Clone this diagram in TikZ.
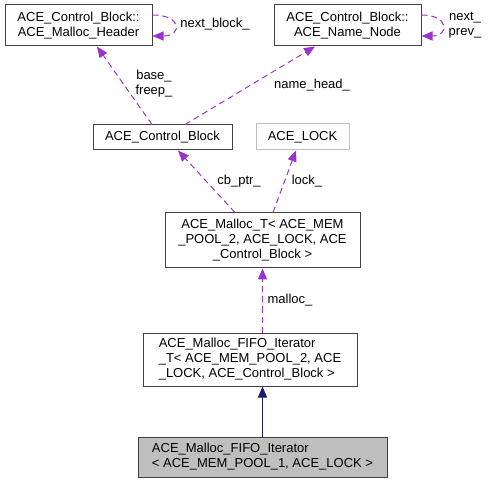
\documentclass[tikz,border=0pt]{standalone}
\usepackage{fontspec}
\setmainfont{Liberation Sans}
\usepackage{tikz}
\usetikzlibrary{arrows.meta}
\definecolor{usagecol}{HTML}{9A32CD}
\definecolor{inheritcol}{HTML}{191970}

\begin{document}
\begin{tikzpicture}[x=1pt,y=-1pt,line width=1pt]
  \tikzstyle{classbox} = [draw=black!75,fill=white,font=\fontsize{13}{15}\selectfont,inner sep=2pt,align=center]
  \tikzstyle{lockbox} = [classbox,draw=black!25]
  \tikzstyle{thisbox} = [classbox,fill=black!25]
  \tikzstyle{usage} = [draw=usagecol,dash pattern=on 6pt off 4pt,-{Triangle[length=11pt,width=9pt]}]
  \tikzstyle{inherit} = [draw=inheritcol,-{Triangle[length=11pt,width=9pt]}]
  \tikzstyle{elabel} = [font=\fontsize{13}{15}\selectfont,align=center,inner sep=0pt]
  \useasboundingbox (0,0) rectangle (488,484);
  %
  % Classes.
  \node[classbox,minimum width=147pt,minimum height=41pt] (hdr) at (78.5,25.5) {ACE\_Control\_Block::\\ACE\_Malloc\_Header};
  \node[classbox,minimum width=147pt,minimum height=41pt] (namenode) at (347.5,25.5) {ACE\_Control\_Block::\\ACE\_Name\_Node};
  \node[classbox,minimum width=139pt,minimum height=25pt] (cblock) at (162.5,137.5) {ACE\_Control\_Block};
  \node[lockbox,minimum width=93pt,minimum height=26pt] (lock) at (302.5,137) {ACE\_LOCK};
  \node[classbox,minimum width=195pt,minimum height=55pt] (mallocT) at (262.5,240.5) {ACE\_Malloc\_T< ACE\_MEM\\\_POOL\_2, ACE\_LOCK, ACE\\\_Control\_Block >};
  \node[classbox,align=left,minimum width=214pt,minimum height=53pt] (fifoT) at (250,359.5) {ACE\_Malloc\_FIFO\_Iterator\\\_T< ACE\_MEM\_POOL\_2, ACE\\\_LOCK, ACE\_Control\_Block >};
  \node[thisbox,align=left,minimum width=249pt,minimum height=40pt] (iter) at (262.5,457) {ACE\_Malloc\_FIFO\_Iterator\\< ACE\_MEM\_POOL\_1, ACE\_LOCK >};
  %
  % Usage edges.
  \draw[usage] ([xshift=-10.5pt]cblock.north) -- ([xshift=18.5pt]hdr.south);
  \draw[usage] ([xshift=22.5pt]cblock.north) -- ([xshift=-32.5pt]namenode.south);
  \draw[usage] ([yshift=10.5pt]hdr.east) .. controls +(30,0) and +(30,0) .. ([yshift=-10.5pt]hdr.east);
  \draw[usage] ([yshift=10.5pt]namenode.east) .. controls +(28,0) and +(28,0) .. ([yshift=-10.5pt]namenode.east);
  \draw[usage] ([xshift=-27.5pt]mallocT.north) -- ([xshift=15.5pt]cblock.south);
  \draw[usage] ([xshift=10.5pt]mallocT.north) -- ([xshift=-6.5pt]lock.south);
  \draw[usage] ([xshift=12.5pt]fifoT.north) -- (mallocT.south);
  % Inheritance edge.
  \draw[inherit] (iter.north) -- ([xshift=12.5pt]fifoT.south);
  %
  % Edge labels.
  \node[elabel] (lbase) at (154,84) {base\_\\freep\_};
  \node[elabel] (lname) at (312,85) {name\_head\_};
  \node[elabel] (lnextblock) at (215,24) {next\_block\_};
  \node[elabel] (lnextprev) at (465,25) {next\_\\prev\_};
  \node[elabel] (lcb) at (239,181) {cb\_ptr\_};
  \node[elabel] (llock) at (307,181) {lock\_};
  \node[elabel] (lmalloc) at (290,300) {malloc\_};
\end{tikzpicture}
\end{document}
